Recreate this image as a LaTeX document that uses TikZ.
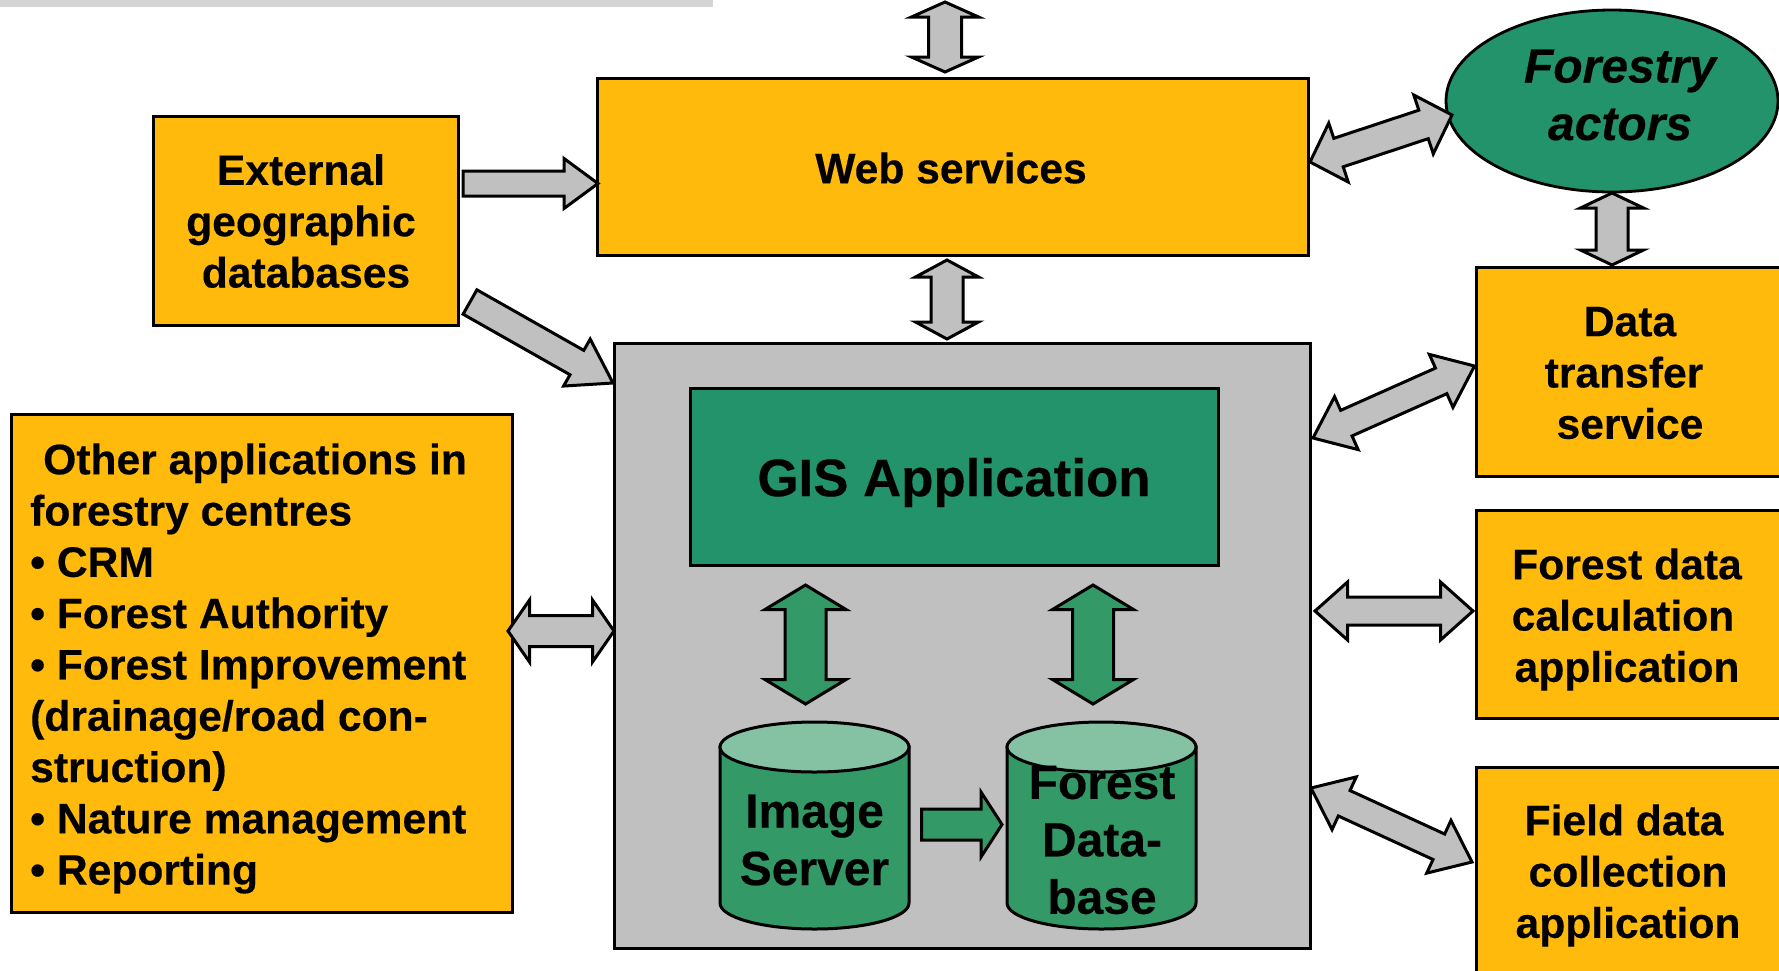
\documentclass[tikz,border=0pt]{standalone}
\usepackage{fontspec}
\setmainfont[BoldFeatures={FakeBold=0.3},BoldItalicFeatures={FakeBold=0.3}]{Liberation Sans}
\usetikzlibrary{calc}
\definecolor{boxorange}{HTML}{FFBA0C}
\definecolor{deepgreen}{HTML}{22936B}
\definecolor{cylgreen}{HTML}{339966}
\definecolor{cyltop}{HTML}{85C1A3}
\definecolor{panelgrey}{HTML}{C0C0C0}
\definecolor{stripgrey}{HTML}{D4D4D4}
\tikzset{
  x=1pt,y=-1pt,
  line width=3pt,
  boxbase/.style={draw=black,rectangle,inner sep=0pt,line width=3pt},
  orangebox/.style={boxbase,fill=boxorange},
  lbl/.style={align=center,inner sep=0pt,font=\bfseries\fontsize{42.6}{51.3}\selectfont},
  biglbl/.style={align=center,inner sep=0pt,font=\bfseries\fontsize{48}{57.5}\selectfont},
  arrowline/.style={draw=black,line width=3pt,line join=miter,miter limit=6},
}
% #1 fill, #2 start, #3 end, #4 head length, #5 head half width, #6 shaft half width
\newcommand{\twoway}[6]{%
  \draw[arrowline,fill=#1]
    (#2) -- ($($(#2)!#4pt!(#3)$)!#5pt!90:(#3)$)
    -- ($($(#2)!#4pt!(#3)$)!#6pt!90:(#3)$)
    -- ($($(#3)!#4pt!(#2)$)!#6pt!-90:(#2)$)
    -- ($($(#3)!#4pt!(#2)$)!#5pt!-90:(#2)$)
    -- (#3)
    -- ($($(#3)!#4pt!(#2)$)!#5pt!90:(#2)$)
    -- ($($(#3)!#4pt!(#2)$)!#6pt!90:(#2)$)
    -- ($($(#2)!#4pt!(#3)$)!#6pt!-90:(#3)$)
    -- ($($(#2)!#4pt!(#3)$)!#5pt!-90:(#3)$)
    -- cycle;}
\newcommand{\oneway}[6]{%
  \draw[arrowline,fill=#1]
    ($(#2)!#6pt!90:(#3)$)
    -- ($($(#3)!#4pt!(#2)$)!#6pt!-90:(#2)$)
    -- ($($(#3)!#4pt!(#2)$)!#5pt!-90:(#2)$)
    -- (#3)
    -- ($($(#3)!#4pt!(#2)$)!#5pt!90:(#2)$)
    -- ($($(#3)!#4pt!(#2)$)!#6pt!90:(#2)$)
    -- ($(#2)!#6pt!-90:(#3)$)
    -- cycle;}
% #1 name, #2 left x, #3 right x, #4 top-ellipse centre y, #5 bottom-ellipse centre y
\newcommand{\cyl}[5]{%
  \draw[line width=3pt,fill=cylgreen]
    (#2,#4) -- (#2,#5) arc[start angle=180,end angle=360,x radius={(#3-#2)/2*1pt},y radius=26pt] -- (#3,#4) -- cycle;
  \draw[line width=3pt,fill=cyltop]
    ({(#2+#3)/2},#4) ellipse[x radius={(#3-#2)/2*1pt},y radius=25pt];
  \coordinate (#1) at ({(#2+#3)/2},#4);}
\begin{document}
\begin{tikzpicture}
\useasboundingbox (0,0) rectangle (1779,970);
\fill[stripgrey] (0,0) rectangle (713,7);

% main boxes
\node[orangebox,minimum width=305pt,minimum height=209pt] (ext) at (305.5,220.5) {};
\node[orangebox,minimum width=711pt,minimum height=177pt] (web) at (952.5,166.5) {};
\node[boxbase,fill=panelgrey,minimum width=696pt,minimum height=605pt] (panel) at (962,645.5) {};
\node[boxbase,fill=deepgreen,minimum width=528pt,minimum height=177pt] (gis) at (954,476.5) {};
\node[orangebox,minimum width=501pt,minimum height=498pt] (other) at (261.5,663) {};
\draw[line width=2.8pt,fill=deepgreen] (1612,101) ellipse[x radius=166pt,y radius=91pt];
\coordinate (actors) at (1612,101);
\node[orangebox,minimum width=320pt,minimum height=209pt] (data) at (1636,371.5) {};
\node[orangebox,minimum width=320pt,minimum height=208pt] (calc) at (1636,614) {};
\node[orangebox,minimum width=320pt,minimum height=260pt] (field) at (1636,897) {};

% labels
\node[lbl] (extT) at (301,221) {External\\geographic\\\hspace*{10pt}databases};
\node[lbl] (webT) at (951,168) {Web services};
\node[lbl,font=\bfseries\fontsize{52.8}{60}\selectfont] (gisT) at (954,482.5) {GIS Application};
\node[lbl,font=\bfseries\itshape\fontsize{48}{57.5}\selectfont] (actorsT) at (1620,95) {Forestry\\actors};
\node[lbl] (dataT) at (1624,373) {\hspace*{12pt}Data\\transfer\\\hspace*{12pt}service};
\node[lbl] (calcT) at (1623,619.5) {\hspace*{8pt}Forest data\\calculation\\\hspace*{8pt}application};
\node[lbl] (fieldT) at (1624,875.5) {Field data\\\hspace*{8pt}collection\\\hspace*{8pt}application};
\node[lbl,align=left,anchor=west] (otherT) at (30,668.5) {\hspace*{13pt}Other applications in\\forestry centres\\• CRM\\• Forest Authority\\• Forest Improvement\\(drainage/road con-\\struction)\\• Nature management\\• Reporting};

% cylinders
\cyl{imgdb}{720}{909}{747}{903}
\cyl{fordb}{1007}{1196}{747}{903}
\node[biglbl] (imgT) at (814.5,840) {Image\\Server};
\node[biglbl] (forT) at (1102,840) {Forest\\Data-\\base};

% block arrow ends
\coordinate (a1) at (945,2);      \coordinate (a2) at (945,72);
\coordinate (b1) at (947,260);    \coordinate (b2) at (947,339);
\coordinate (c1) at (463,183.5);  \coordinate (c2) at (598,183.5);
\coordinate (d1) at (470,302);    \coordinate (d2) at (613,383);
\coordinate (e1) at (1310,162);   \coordinate (e2) at (1452,115);
\coordinate (f1) at (1612,193);   \coordinate (f2) at (1612,265);
\coordinate (g1) at (1313,438);   \coordinate (g2) at (1474.5,366);
\coordinate (h1) at (1315,611);   \coordinate (h2) at (1473,611);
\coordinate (i1) at (1311,788);   \coordinate (i2) at (1472,862);
\coordinate (j1) at (508,631);    \coordinate (j2) at (614,631);
\coordinate (k1) at (805.5,585);  \coordinate (k2) at (805.5,704);
\coordinate (l1) at (1093,585);   \coordinate (l2) at (1093,704);
\coordinate (m1) at (921.5,824.5);\coordinate (m2) at (1002,824.5);

\twoway{panelgrey}{a1}{a2}{15}{33.5}{16.5}
\twoway{panelgrey}{b1}{b2}{17}{31.5}{16}
\oneway{panelgrey}{c1}{c2}{34}{25}{12.5}
\oneway{panelgrey}{d1}{d2}{41.5}{27}{14}
\twoway{panelgrey}{e1}{e2}{30}{31}{15}
\twoway{panelgrey}{f1}{f2}{15}{31.5}{16}
\twoway{panelgrey}{g1}{g2}{36.5}{29}{14}
\twoway{panelgrey}{h1}{h2}{32.5}{29}{14}
\twoway{panelgrey}{i1}{i2}{36.5}{29}{14}
\twoway{panelgrey}{j1}{j2}{21.5}{31}{15.5}
\twoway{cylgreen}{k1}{k2}{24.5}{40.5}{20.5}
\twoway{cylgreen}{l1}{l2}{24.5}{40.5}{20.5}
\oneway{cylgreen}{m1}{m2}{21}{32.5}{15.5}
\end{tikzpicture}
\end{document}
